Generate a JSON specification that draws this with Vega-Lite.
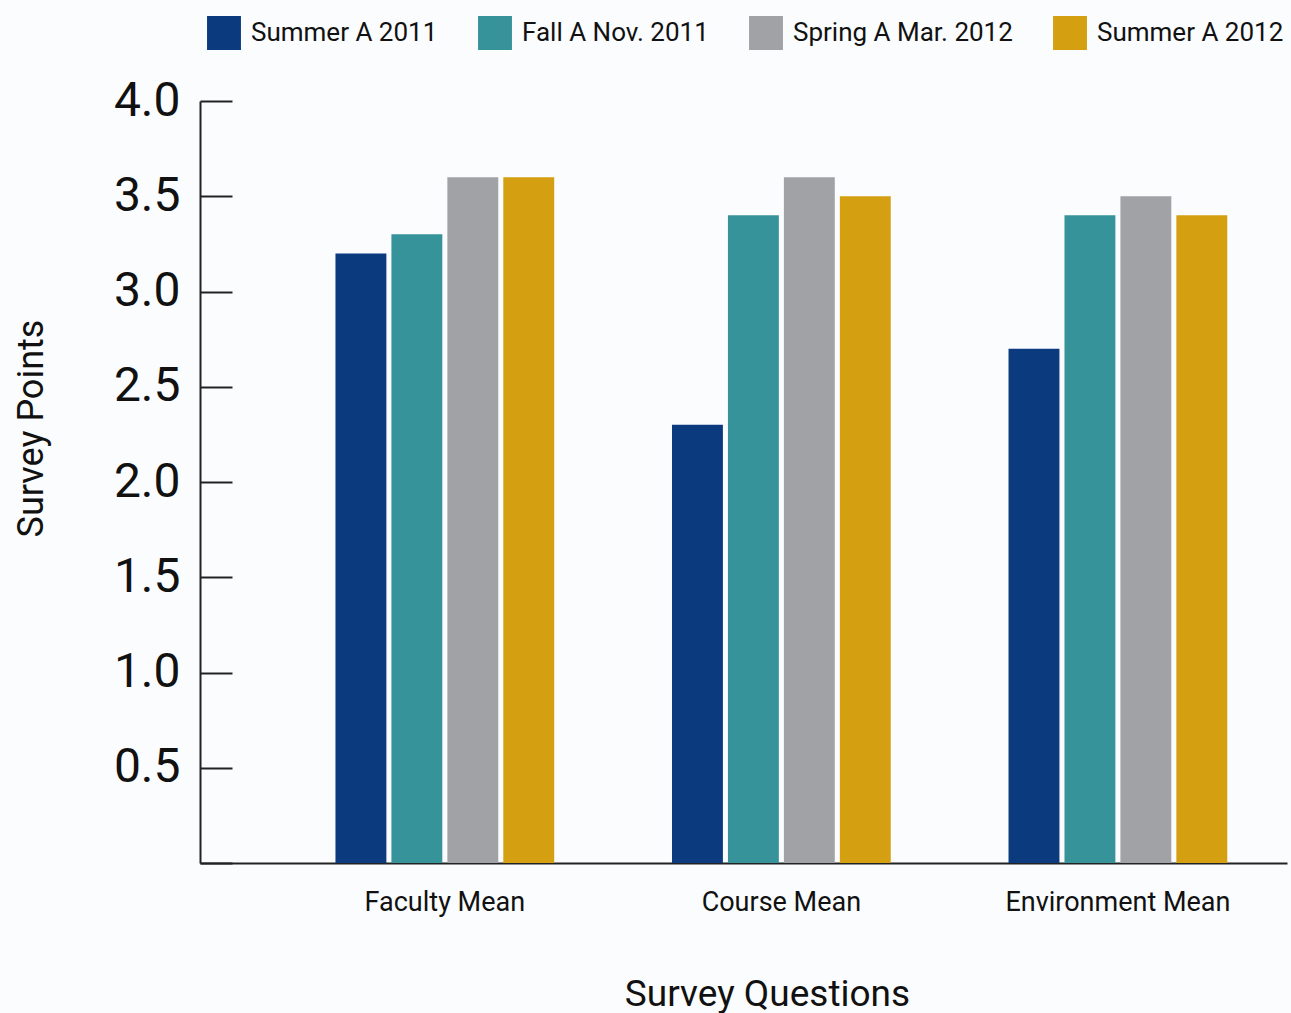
{
  "$schema": "https://vega.github.io/schema/vega-lite/v6.json",
  "width": 1087,
  "height": 762,
  "autosize": {"type": "none"},
  "padding": {"left": 200, "top": 101, "right": 4, "bottom": 150},
  "background": "#fbfcfe",
  "config": {
    "view": {"stroke": null},
    "font": "Roboto, sans-serif"
  },
  "data": {
    "values": [
      {"question": "Faculty Mean", "term": "Summer A 2011", "points": 3.2},
      {"question": "Faculty Mean", "term": "Fall A Nov. 2011", "points": 3.3},
      {"question": "Faculty Mean", "term": "Spring A Mar. 2012", "points": 3.6},
      {"question": "Faculty Mean", "term": "Summer A 2012", "points": 3.6},
      {"question": "Course Mean", "term": "Summer A 2011", "points": 2.3},
      {"question": "Course Mean", "term": "Fall A Nov. 2011", "points": 3.4},
      {"question": "Course Mean", "term": "Spring A Mar. 2012", "points": 3.6},
      {"question": "Course Mean", "term": "Summer A 2012", "points": 3.5},
      {"question": "Environment Mean", "term": "Summer A 2011", "points": 2.7},
      {"question": "Environment Mean", "term": "Fall A Nov. 2011", "points": 3.4},
      {"question": "Environment Mean", "term": "Spring A Mar. 2012", "points": 3.5},
      {"question": "Environment Mean", "term": "Summer A 2012", "points": 3.4}
    ]
  },
  "mark": {"type": "bar"},
  "encoding": {
    "x": {
      "field": "question",
      "type": "nominal",
      "sort": ["Faculty Mean", "Course Mean", "Environment Mean"],
      "scale": {"paddingInner": 0.35, "paddingOuter": 0.29, "align": 0.694},
      "axis": {
        "title": "Survey Questions",
        "labelAngle": 0,
        "labelFontSize": 27,
        "labelColor": "#111111",
        "labelPadding": 26,
        "labelLimit": 400,
        "ticks": false,
        "domainColor": "#222222",
        "domainWidth": 2,
        "titleFontSize": 37,
        "titleFontWeight": "normal",
        "titleColor": "#111111",
        "titlePadding": 61,
        "titleX": 567
      }
    },
    "xOffset": {
      "field": "term",
      "type": "nominal",
      "sort": ["Summer A 2011", "Fall A Nov. 2011", "Spring A Mar. 2012", "Summer A 2012"],
      "scale": {"paddingInner": 0.09}
    },
    "y": {
      "field": "points",
      "type": "quantitative",
      "scale": {"domain": [0, 4], "nice": false},
      "axis": {
        "title": "Survey Points",
        "values": [0, 0.5, 1, 1.5, 2, 2.5, 3, 3.5, 4],
        "labelExpr": "datum.value == 0 ? '' : format(datum.value, '.1f')",
        "labelFontSize": 48,
        "labelColor": "#111111",
        "tickSize": -32,
        "tickColor": "#222222",
        "tickWidth": 2,
        "labelPadding": 52,
        "domainColor": "#222222",
        "domainWidth": 2,
        "grid": false,
        "titleFontSize": 36,
        "titleFontWeight": "normal",
        "titleColor": "#111111",
        "titlePadding": 63,
        "titleY": 327
      }
    },
    "color": {
      "field": "term",
      "type": "nominal",
      "sort": ["Summer A 2011", "Fall A Nov. 2011", "Spring A Mar. 2012", "Summer A 2012"],
      "scale": {
        "domain": ["Summer A 2011", "Fall A Nov. 2011", "Spring A Mar. 2012", "Summer A 2012"],
        "range": ["#0b3a7f", "#37939a", "#a1a2a6", "#d4a011"]
      },
      "legend": {
        "title": null,
        "orient": "none",
        "direction": "horizontal",
        "legendX": 7,
        "legendY": -85,
        "symbolType": "square",
        "symbolSize": 1150,
        "symbolStrokeWidth": 0,
        "labelFontSize": 26,
        "labelColor": "#111111",
        "labelOffset": 10,
        "columnPadding": 40,
        "labelLimit": 400
      }
    }
  }
}
